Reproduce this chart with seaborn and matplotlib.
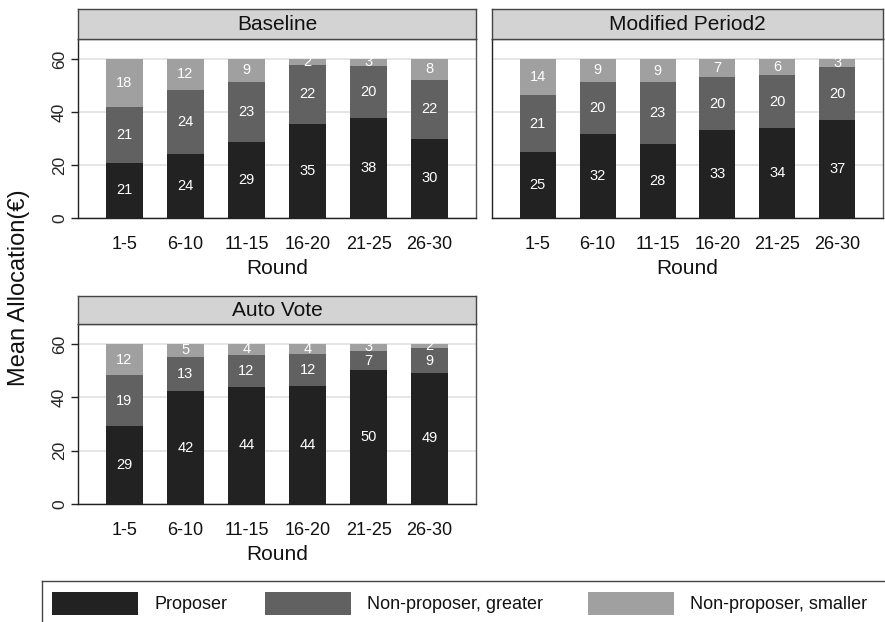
import matplotlib
matplotlib.use('Agg')
import matplotlib.pyplot as plt
from matplotlib.patches import Rectangle
import seaborn as sns
import pandas as pd

# 데이터
rounds = ['1-5', '6-10', '11-15', '16-20', '21-25', '26-30']
panels = ['Baseline', 'Modified Period2', 'Auto Vote']
components = ['Proposer', 'Non-proposer, greater', 'Non-proposer, smaller']

baseline_proposer = [20.8, 24.2, 28.6, 35.4, 37.6, 29.8]
baseline_greater = [21.1, 24.2, 22.8, 22.4, 19.8, 22.4]
baseline_smaller = [18.1, 11.6, 8.6, 2.2, 2.6, 7.8]

modified_proposer = [24.8, 31.8, 27.8, 33.0, 34.0, 36.8]
modified_greater = [21.4, 19.6, 23.3, 20.2, 19.8, 20.2]
modified_smaller = [13.8, 8.6, 8.9, 6.8, 6.2, 3.0]

auto_proposer = [29.4, 42.3, 44.0, 44.4, 50.2, 49.2]
auto_greater = [18.8, 13.0, 11.9, 12.0, 7.2, 9.2]
auto_smaller = [11.8, 4.7, 4.1, 3.6, 2.6, 1.6]

colors = ['#222222', '#616161', '#a0a0a0']

sns.set_theme(style='white')
plt.rcParams['font.family'] = ['Liberation Sans', 'DejaVu Sans']

series = {
    'Baseline': [baseline_proposer, baseline_greater, baseline_smaller],
    'Modified Period2': [modified_proposer, modified_greater, modified_smaller],
    'Auto Vote': [auto_proposer, auto_greater, auto_smaller],
}

W, H = 885, 622
fig = plt.figure(figsize=(W / 100, H / 100), dpi=100)


def px_axes(x0, y0, x1, y1):
    # 픽셀 좌표(위에서부터)로 axes 생성
    return fig.add_axes([x0 / W, 1 - y1 / H, (x1 - x0) / W, (y1 - y0) / H])


# 패널 위치: (plot x0, strip top, strip bottom, plot bottom, plot x1)
layout = {
    'Baseline': (78, 9, 39, 218, 476),
    'Modified Period2': (492, 9, 39, 218, 883),
    'Auto Vote': (78, 296, 324, 504, 476),
}

for name in panels:
    x0, st, sb, pb, x1 = layout[name]
    ax = px_axes(x0, sb, x1, pb)
    rows = []
    for comp, vals in zip(components, series[name]):
        for r, v in zip(rounds, vals):
            rows.append({'round': r, 'component': comp, 'value': v})
    df = pd.DataFrame(rows)
    df['top'] = df.groupby('round', sort=False)['value'].cumsum()
    df['mid'] = df['top'] - df['value'] / 2

    # 누적 막대: 위쪽 합부터 그려서 겹치기
    for comp, col in reversed(list(zip(components, colors))):
        sub = df[df['component'] == comp]
        sns.barplot(data=sub, x='round', y='top', order=rounds, color=col,
                    saturation=1, width=0.6, linewidth=0, ax=ax)
    for _, row in df.iterrows():
        ax.text(rounds.index(row['round']), row['mid'], f"{row['value']:.0f}",
                ha='center', va='center', color='white', fontsize=10.5)

    ax.set_xlim(-0.76, 5.76)
    ax.set_ylim(0, 67.5)
    ax.set_yticks([0, 20, 40, 60])
    ax.yaxis.grid(True, color='#e2e2e2', lw=1.2)
    ax.set_axisbelow(True)
    for s in ax.spines.values():
        s.set_color('#555555')
        s.set_linewidth(1)
    ax.spines['left'].set_color('#222222')
    ax.spines['bottom'].set_color('#222222')
    ax.tick_params(axis='x', length=0, labelsize=13, pad=13, colors='#111111')
    if name == 'Modified Period2':
        ax.tick_params(axis='y', left=False, labelleft=False)
    else:
        ax.tick_params(axis='y', left=True, length=5, width=1, color='#222222',
                       labelsize=12.5, pad=3)
        for lab in ax.get_yticklabels():
            lab.set_rotation(90)
            lab.set_va('center')
    ax.set_xlabel('Round', fontsize=15, labelpad=4, color='#111111')
    ax.set_ylabel('')

    # 패널 제목 띠
    sax = px_axes(x0, st, x1, sb)
    sax.set_facecolor('#d3d3d3')
    sax.set_xticks([])
    sax.set_yticks([])
    for s in sax.spines.values():
        s.set_color('#444444')
        s.set_linewidth(1)
    sax.text(0.5, 0.47, name, ha='center', va='center', fontsize=15,
             transform=sax.transAxes, color='#111111')

fig.text(19 / W, 1 - 288 / H, 'Mean Allocation(€)', rotation=90,
         ha='center', va='center', fontsize=17, color='#111111')

# 범례
lax = px_axes(42, 581, 890, 630)
lax.set_xlim(42, 890)
lax.set_ylim(630, 581)
lax.set_xticks([])
lax.set_yticks([])
for s in lax.spines.values():
    s.set_color('#444444')
    s.set_linewidth(1)
for comp, col, kx, tx in zip(components, colors, [52, 265, 588], [155, 367, 690]):
    lax.add_patch(Rectangle((kx, 592), 86, 23, facecolor=col, edgecolor='none'))
    lax.text(tx, 604, comp, ha='left', va='center', fontsize=13, color='#111111')

fig.savefig('out.png', dpi=100)
